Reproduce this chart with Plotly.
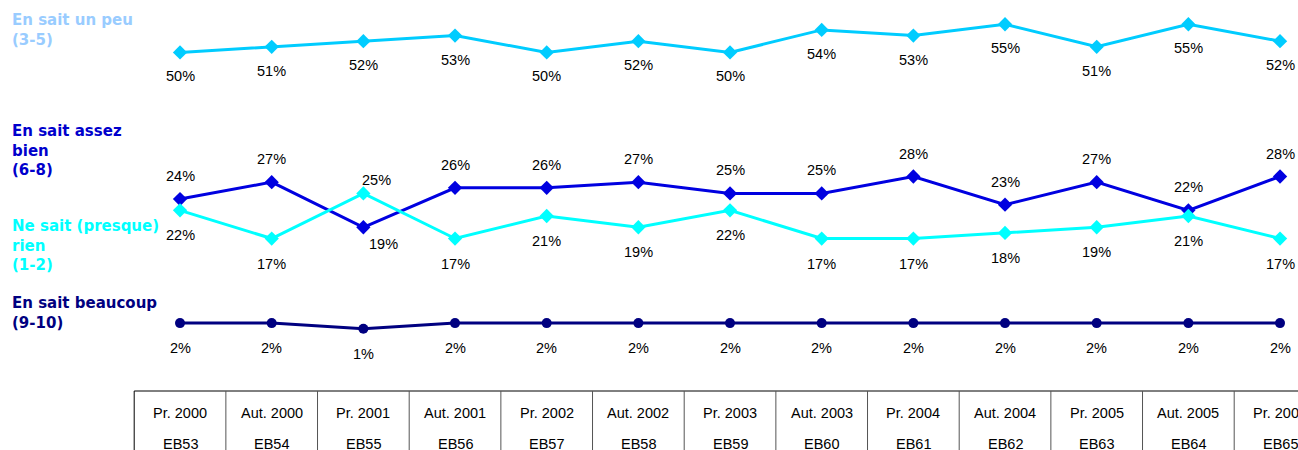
import plotly.graph_objects as go

# Survey waves (columns of the table under the chart)
periods = ["Pr. 2000", "Aut. 2000", "Pr. 2001", "Aut. 2001", "Pr. 2002", "Aut. 2002", "Pr. 2003",
           "Aut. 2003", "Pr. 2004", "Aut. 2004", "Pr. 2005", "Aut. 2005", "Pr. 2006"]
waves = ["EB53", "EB54", "EB55", "EB56", "EB57", "EB58", "EB59",
         "EB60", "EB61", "EB62", "EB63", "EB64", "EB65"]

# Values in %
un_peu = [50, 51, 52, 53, 50, 52, 50, 54, 53, 55, 51, 55, 52]
assez_bien = [24, 27, 19, 26, 26, 27, 25, 25, 28, 23, 27, 22, 28]
presque_rien = [22, 17, 25, 17, 21, 19, 22, 17, 17, 18, 19, 21, 17]
beaucoup = [2, 2, 1, 2, 2, 2, 2, 2, 2, 2, 2, 2, 2]

x = list(range(len(periods)))

# series: values, line colour, label colour, marker, label text, label top, label shifts (y, x) per point
series = [
    (un_peu, "#00CCFF", "#99CCFF", "diamond", "En sait un peu<br>(3-5)", 20,
     [-24] * 13, [0] * 13),
    (assez_bien, "#0000E0", "#0000CC", "diamond", "En sait assez<br>bien<br>(6-8)", 131,
     [23, 23, -17, 23, 23, 23, 23, 23, 23, 23, 23, 23, 23], [0, 0, 20, 0, 0, 0, 0, 0, 0, 0, 0, 0, 0]),
    (presque_rien, "#00FFFF", "#00FFFF", "diamond", "Ne sait (presque)<br>rien<br>(1-2)", 226,
     [-25, -25, 13, -25, -25, -25, -25, -25, -25, -25, -25, -25, -25], [0, 0, 13, 0, 0, 0, 0, 0, 0, 0, 0, 0, 0]),
    (beaucoup, "#000080", "#000080", "circle", "En sait beaucoup<br>(9-10)", 303,
     [-25] * 13, [0] * 13),
]

fig = go.Figure()
annotations = []

for vals, line_col, lab_col, sym, name, lab_y, yshifts, xshifts in series:
    fig.add_trace(go.Scatter(
        x=x, y=vals, mode="lines+markers", name=name.replace("<br>", " "),
        line=dict(color=line_col, width=3),
        marker=dict(symbol=sym, size=11 if sym == "diamond" else 10, color=line_col),
        showlegend=False, hoverinfo="skip"))
    for xi, v, ys, xs in zip(x, vals, yshifts, xshifts):
        annotations.append(dict(x=xi, y=v, xref="x", yref="y", text=f"{v}%", showarrow=False,
                                yshift=ys, xshift=xs, yanchor="middle",
                                font=dict(family="Liberation Sans, Arial", size=14.5, color="black")))
    # series name on the left
    annotations.append(dict(x=10 / 1298, y=1 - (lab_y - 11) / 450, xref="paper", yref="paper",
                            xanchor="left", yanchor="top", align="left", text=f"<b>{name}</b>",
                            showarrow=False,
                            font=dict(family="DejaVu Sans", size=15, color=lab_col)))

# Table under the chart
table_top = 1 - 391 / 450
shapes = [dict(type="line", xref="x", yref="paper", x0=-0.5, x1=13, y0=table_top, y1=table_top,
               line=dict(color="black", width=1))]
for i in range(len(periods) + 1):
    shapes.append(dict(type="line", xref="x", yref="paper", x0=i - 0.5, x1=i - 0.5, y0=0, y1=table_top,
                       line=dict(color="black" if i == 0 else "#555555", width=1)))
for xi, p, w in zip(x, periods, waves):
    annotations.append(dict(x=xi, y=1 - 413 / 450, xref="x", yref="paper", text=p, showarrow=False,
                            yanchor="middle",
                            font=dict(family="Liberation Sans, Arial", size=14.5, color="black")))
    annotations.append(dict(x=xi, y=1 - 444 / 450, xref="x", yref="paper", text=w, showarrow=False,
                            yanchor="middle",
                            font=dict(family="Liberation Sans, Arial", size=14.5, color="black")))

fig.update_layout(
    width=1298, height=450,
    margin=dict(l=0, r=0, t=0, b=0),
    plot_bgcolor="white", paper_bgcolor="white",
    xaxis=dict(range=[-1.964, 12.196], visible=False, fixedrange=True),
    yaxis=dict(range=[-20.5, 59.3], visible=False, fixedrange=True),
    annotations=annotations, shapes=shapes,
)

# page body has a default 8px margin; drop it so the figure fills the window
fig.write_html("out.html", config={"displayModeBar": False},
               post_script="document.body.style.margin='0';")
